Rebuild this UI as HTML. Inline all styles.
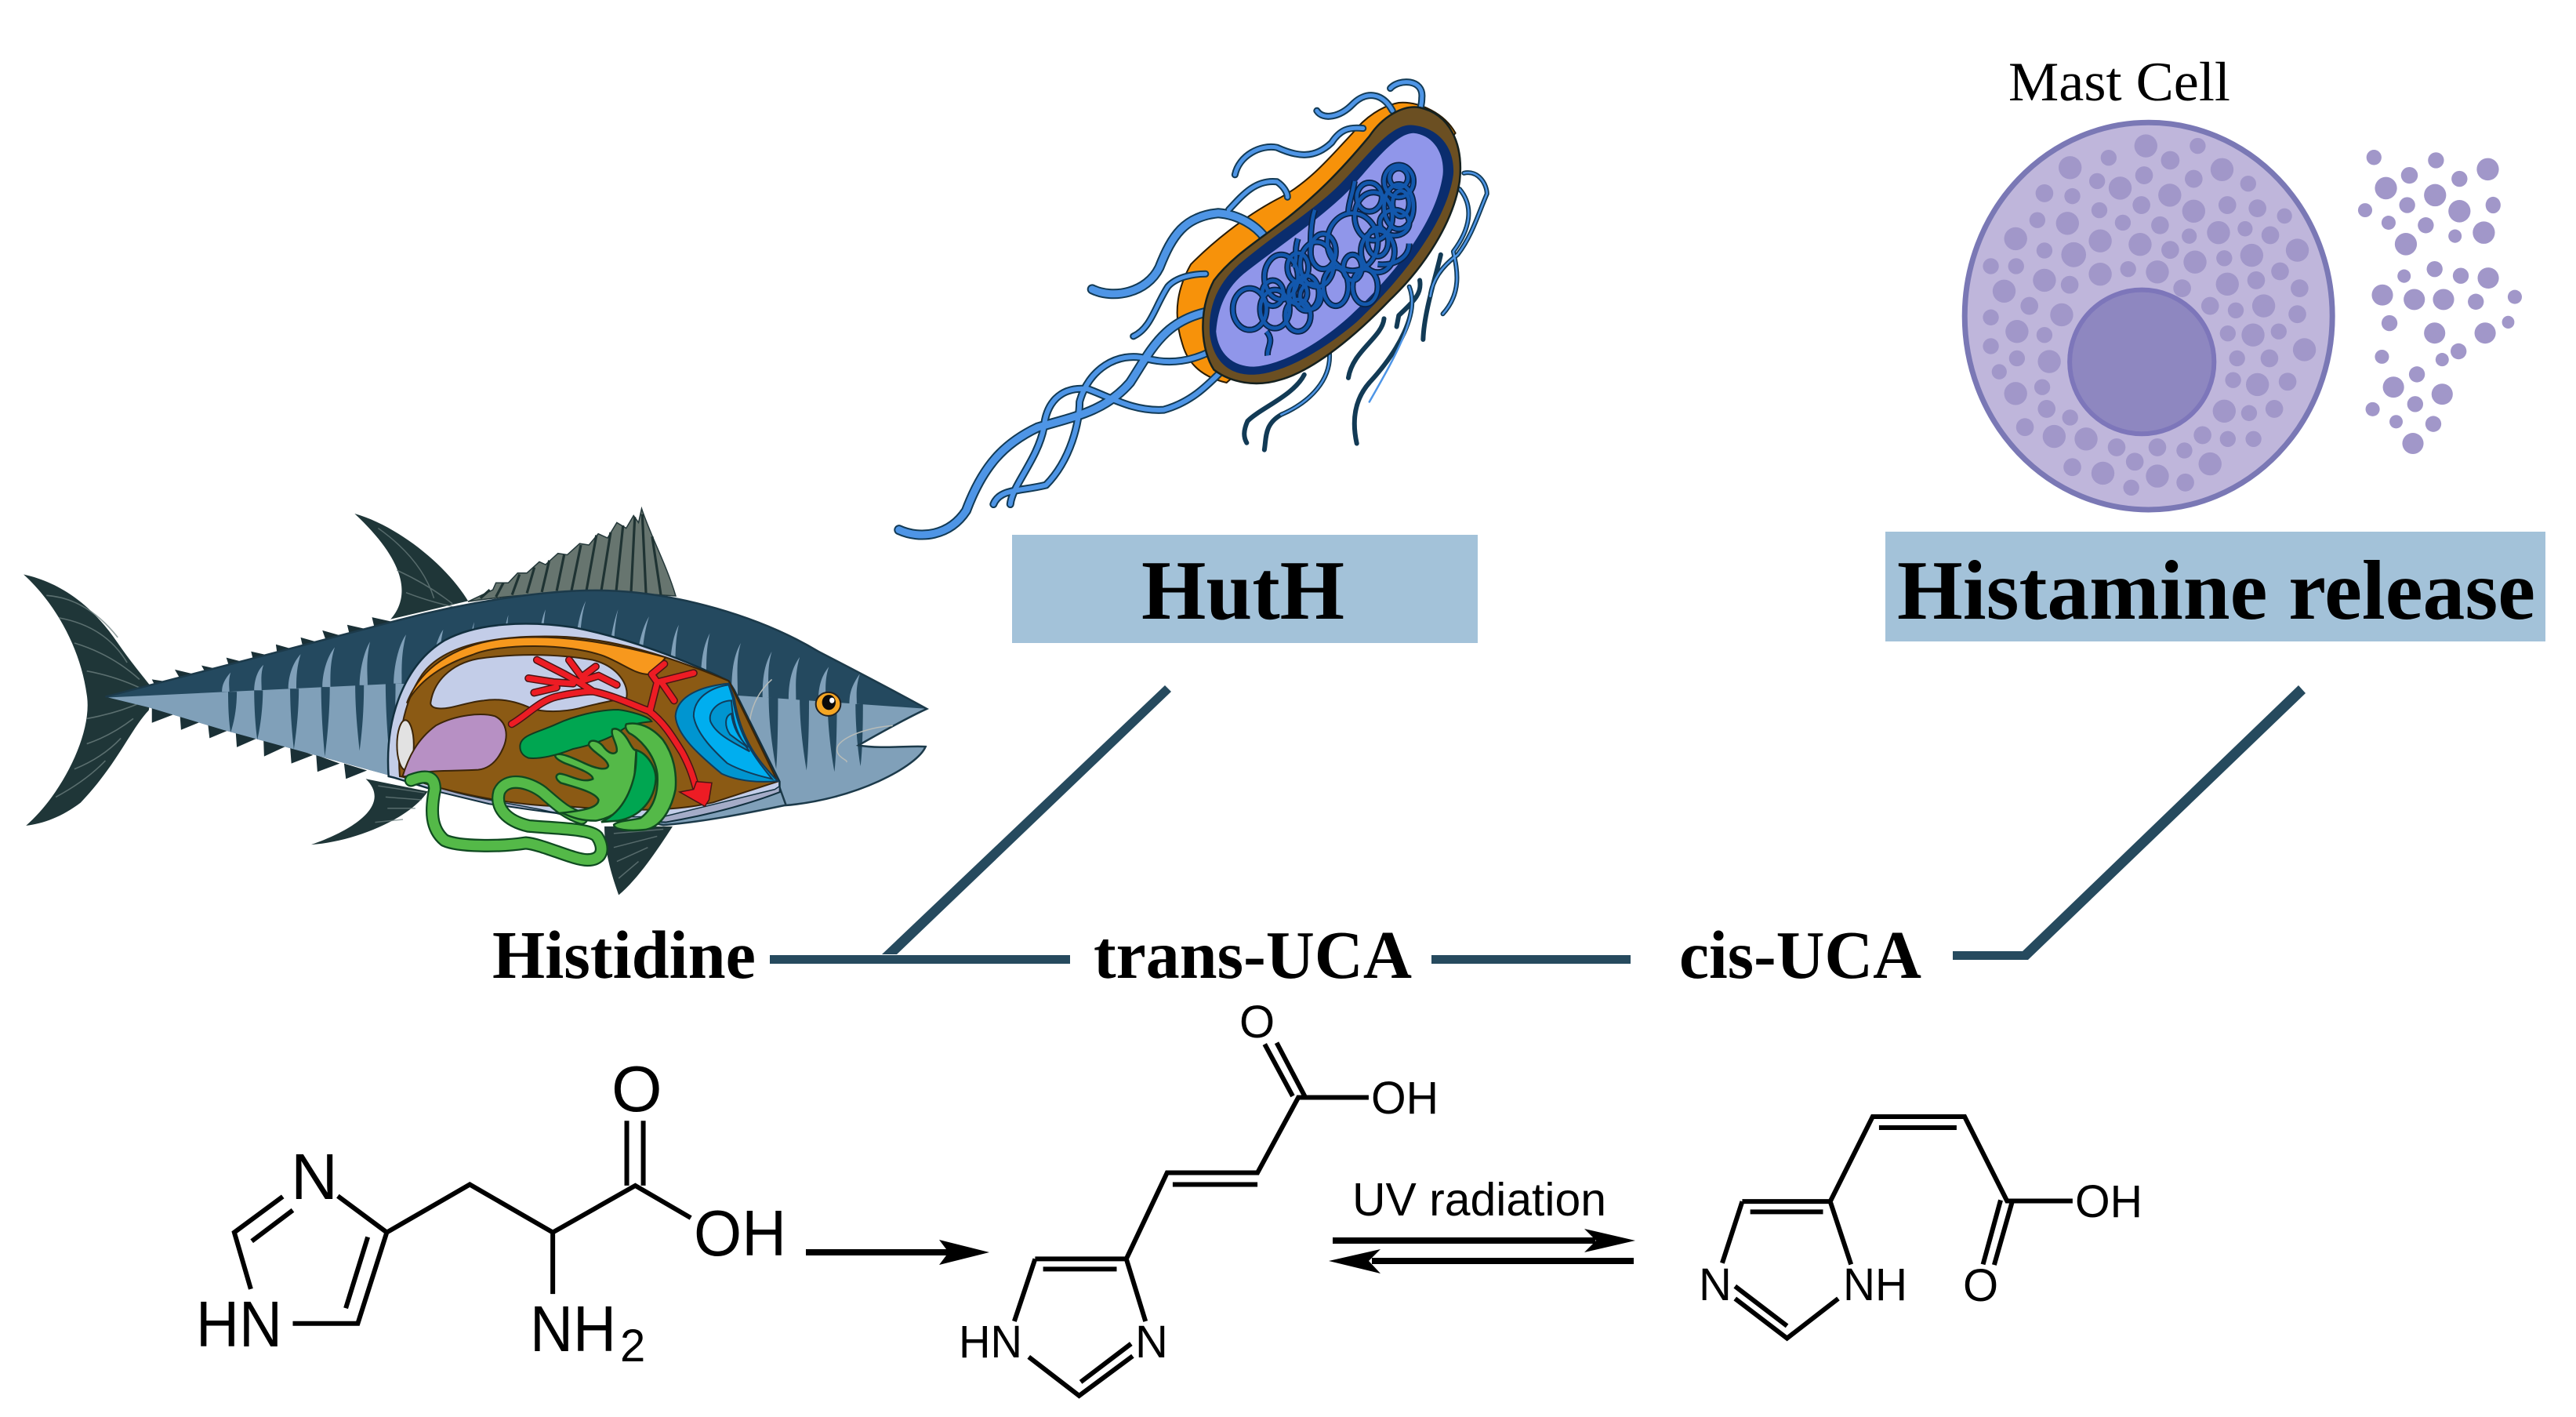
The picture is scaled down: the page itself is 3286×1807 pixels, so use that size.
<!DOCTYPE html>
<html lang="en"><head><meta charset="utf-8"><title>Histidine to UCA diagram</title>
<style>
html,body{margin:0;padding:0;background:#fff}
svg{display:block}
svg *{vector-effect:non-scaling-stroke}
.b{font-family:"Liberation Serif",serif;font-weight:bold;fill:#000}
.s{font-family:"Liberation Sans",sans-serif;fill:#000}
.chem{fill:none;stroke:#000;stroke-width:6;stroke-linecap:butt;stroke-linejoin:miter}
</style></head><body>
<svg xmlns="http://www.w3.org/2000/svg" width="3286" height="1807" viewBox="0 0 3286 1807">
<defs>
<clipPath id="bd"><path d="M170,752C300,680 500,560 640,480C760,410 880,372 960,372C1090,372 1230,470 1320,590C1390,670 1450,740 1495,795C1470,820 1420,880 1385,925C1420,940 1470,925 1493,930C1480,1000 1380,1120 1265,1140C1200,1170 1130,1200 1070,1210L640,1040L360,870L240,790Z"/></clipPath>
<g id="dna">
<ellipse cx="885" cy="770" rx="40" ry="65"/><ellipse cx="945" cy="770" rx="35" ry="60"/><ellipse cx="1000" cy="790" rx="30" ry="50"/><ellipse cx="960" cy="670" rx="40" ry="70"/><ellipse cx="1020" cy="720" rx="30" ry="55"/><ellipse cx="1045" cy="630" rx="40" ry="70"/><ellipse cx="1090" cy="700" rx="30" ry="60"/><ellipse cx="1130" cy="560" rx="60" ry="90"/><ellipse cx="1190" cy="590" rx="40" ry="65"/><ellipse cx="1180" cy="480" rx="45" ry="75"/><ellipse cx="1240" cy="450" rx="35" ry="70"/><ellipse cx="1240" cy="370" rx="35" ry="50"/><ellipse cx="1160" cy="700" rx="30" ry="55"/>
<ellipse cx="1030" cy="730" rx="25" ry="40"/><ellipse cx="1000" cy="640" rx="25" ry="45"/><ellipse cx="1060" cy="590" rx="30" ry="55"/><ellipse cx="1130" cy="640" rx="22" ry="40"/><ellipse cx="1190" cy="560" rx="25" ry="45"/><ellipse cx="1240" cy="360" rx="22" ry="30"/><ellipse cx="1245" cy="440" rx="20" ry="40"/><ellipse cx="1230" cy="500" rx="35" ry="40"/><ellipse cx="1170" cy="420" rx="30" ry="45"/><ellipse cx="940" cy="720" rx="25" ry="40"/><ellipse cx="1000" cy="720" rx="22" ry="35"/>
<path d="M925,840C945,870 925,890 928,915M1040,460C1030,500 1030,550 1030,600M1135,370C1130,410 1120,440 1120,470M1265,565C1265,610 1230,635 1190,630M1000,550C990,590 1000,610 990,640"/>
</g>
</defs>
<rect width="3286" height="1807" fill="#fff"/>

<!-- FISH -->
<g transform="translate(0,620) scale(.7908,.35714)">
<path d="M38,315C100,345 150,430 190,560C215,640 235,690 245,720L240,800C210,870 190,990 130,1130C100,1180 70,1205 42,1212C100,1100 150,880 140,745C130,580 90,420 38,315Z" fill="#1f3638"/>
<g fill="none" stroke="#6f8282" stroke-width="1.6" opacity=".75">
<path d="M75,390Q140,400 190,540M95,470Q170,500 205,630M120,560Q180,600 225,690M140,660Q190,680 235,730M140,830Q190,810 230,770M140,920Q180,890 215,830M120,1010Q165,970 195,900M90,1110Q140,1050 170,980"/>
</g>
<path d="M572,98C640,140 720,280 755,410L630,475C660,400 660,280 572,98Z" fill="#1f3638"/>
<path d="M610,150Q680,260 700,400M640,300Q690,350 730,420M655,380Q690,410 730,430" fill="none" stroke="#6f8282" stroke-width="1.5" opacity=".7"/>
<path d="M755,412L795,370L800,345L820,345L835,310L850,310L870,270L880,280L900,240L915,245L935,205L950,210L965,170L980,185L995,130L1010,150L1022,105L1030,130L1035,80C1050,180 1075,280 1090,392C960,370 850,380 755,412Z" fill="#67756f" stroke="#24383a" stroke-width="1.5"/>
<path d="M775,400L790,370M800,395L812,345M826,388L838,315M850,382L862,290M874,378L886,265M898,374L910,245M922,372L937,210M946,372L962,175M970,372L985,165M994,374L1005,140M1018,378L1024,110M1042,382L1036,100M1066,388L1052,180" fill="none" stroke="#1f3333" stroke-width="3.2"/>
<!-- finlets -->
<g fill="#1a3036">
<path d="M245,690L290,705L255,735ZM282,655L330,680L295,705ZM325,640L365,660L335,680ZM365,612L405,635L372,660ZM405,590L445,610L410,635ZM445,565L485,590L448,612ZM485,540L525,565L490,590ZM520,515L560,540L528,565ZM560,495L600,515L565,540ZM600,468L635,485L605,515Z"/>
<path d="M245,785L280,815L245,845ZM290,810L325,840L292,870ZM335,840L370,870L338,900ZM380,870L415,900L382,932ZM425,900L460,930L426,965ZM468,930L505,960L470,990ZM510,960L548,990L512,1020ZM555,990L592,1015L558,1045Z"/>
</g>
<path d="M590,1045L690,1090C660,1190 570,1270 502,1280C580,1220 630,1130 590,1045Z" fill="#1f3638"/>
<path d="M610,1070L685,1095M622,1110L680,1120M625,1150L670,1150M605,1200L650,1190" stroke="#6f8282" stroke-width="1.5" opacity=".7" fill="none"/>
<path d="M975,1215L1085,1215C1060,1300 1030,1400 998,1460C985,1380 975,1300 975,1215Z" fill="#1f3638"/>
<path d="M990,1240L1070,1225M990,1290L1060,1250M995,1340L1045,1290M998,1400L1030,1340" stroke="#6f8282" stroke-width="1.5" opacity=".7" fill="none"/>
<!-- body -->
<path d="M170,752C300,680 500,560 640,480C760,410 880,372 960,372C1090,372 1230,470 1320,590C1390,670 1450,740 1495,795C1470,820 1420,880 1385,925C1420,940 1470,925 1493,930C1480,1000 1380,1120 1265,1140C1200,1170 1130,1200 1070,1210L640,1040L360,870L240,790Z" fill="#24495f"/>
<g clip-path="url(#bd)">
<path d="M170,755L640,705L1175,745L1495,795L1500,1250L600,1250L170,800Z" fill="#80a0b9"/>
<g fill="#80a0b9">
<path d="M358,734C358,710 362,690 372,665C368,695 370,715 370,734Z"/>
<path d="M410,729C410,700 414,660 425,638C420,670 422,700 422,729Z"/>
<path d="M465,723C465,680 472,630 485,600C478,650 478,690 478,723Z"/>
<path d="M520,717C520,670 527,610 540,575C532,630 533,680 533,717Z"/>
<path d="M580,711C580,660 587,590 597,555C590,620 593,670 593,711Z"/>
<path d="M635,705C635,650 642,570 655,530C647,600 648,650 648,705Z"/>
<path d="M695,720C695,640 702,550 715,512C707,590 708,650 708,720Z"/>
<path d="M755,720C755,620 757,530 765,485C760,570 767,640 767,720Z"/>
<path d="M808,720C808,610 812,510 820,460C815,550 820,620 820,720Z"/>
<path d="M865,720C865,600 870,490 880,440C873,540 876,620 876,720Z"/>
<path d="M925,720C925,590 930,470 945,410C932,500 936,610 936,720Z"/>
<path d="M980,720C980,600 987,500 997,440C988,530 990,620 990,720Z"/>
<path d="M1025,720C1025,610 1032,520 1047,465C1035,550 1035,630 1035,720Z"/>
<path d="M1080,740C1080,630 1082,550 1095,495C1087,570 1090,650 1090,740Z"/>
<path d="M1130,745C1130,640 1132,580 1145,525C1137,600 1140,670 1140,745Z"/>
<path d="M1180,745C1180,670 1182,610 1195,560C1187,620 1190,680 1190,745Z"/>
<path d="M1230,755C1230,690 1232,640 1245,590C1237,650 1240,700 1240,755Z"/>
<path d="M1272,763C1272,700 1277,650 1290,610C1282,670 1284,715 1284,763Z"/>
<path d="M1320,770C1320,720 1324,680 1337,645C1330,690 1332,730 1332,770Z"/>
<path d="M1370,778C1370,740 1374,710 1387,670C1380,720 1382,750 1382,778Z"/>
</g>
<g fill="#24495f">
<path d="M368,734L382,734C382,790 378,840 372,880C369,840 368,790 368,734Z"/>
<path d="M410,729L424,729C424,790 420,860 415,905C412,860 410,790 410,729Z"/>
<path d="M468,723L482,723C482,800 478,880 474,940C471,880 468,800 468,723Z"/>
<path d="M518,717L532,717C532,800 528,900 524,965C521,900 518,800 518,717Z"/>
<path d="M573,711L587,711C587,800 584,880 580,945C577,880 573,800 573,711Z"/>
<path d="M622,705L638,705C638,800 636,930 630,1000C626,930 622,800 622,705Z"/>
<path d="M1240,755L1255,755C1255,850 1254,960 1252,1010C1247,950 1240,850 1240,755Z"/>
<path d="M1290,763L1305,763C1305,850 1304,950 1301,1015C1296,950 1290,850 1290,763Z"/>
<path d="M1335,770L1350,770C1350,860 1349,960 1346,1020C1341,960 1335,860 1335,770Z"/>
<path d="M1380,778L1392,778C1392,860 1391,950 1388,1000C1384,950 1380,860 1380,778Z"/>
</g>
</g>
<path d="M170,752C300,680 500,560 640,480C760,410 880,372 960,372C1090,372 1230,470 1320,590C1390,670 1450,740 1495,795C1470,820 1420,880 1385,925C1420,940 1470,925 1493,930C1480,1000 1380,1120 1265,1140C1200,1170 1130,1200 1070,1210L640,1040" fill="none" stroke="#1c3a4a" stroke-width="2.5"/>
<path d="M1255,1060L1268,1140" stroke="#1c3a4a" stroke-width="2.5" fill="none"/>
<path d="M1440,855C1400,860 1350,900 1350,940C1350,970 1370,980 1365,985M1245,690C1215,750 1205,830 1210,900" fill="none" stroke="#b8bcb8" stroke-width="1.5"/>
<ellipse cx="1336" cy="778" rx="20" ry="42" fill="#f5a623" stroke="#222" stroke-width="2"/>
<ellipse cx="1337" cy="772" rx="11" ry="27" fill="#0a0a0a"/>
<ellipse cx="1342" cy="765" rx="4" ry="10" fill="#fff"/>
</g>
<!-- organs (detail coordinates) -->
<g transform="translate(460,780) scale(.357,.3333)">
<path d="M100,630C85,400 160,200 300,110C420,40 600,35 760,60C950,100 1150,180 1315,265L1335,300L1497,650L1497,690C1350,750 1200,785 1090,805C850,800 640,760 460,735L285,690L120,635Z" fill="#c3cde8" stroke="#12303f" stroke-width="2.5"/>
<path d="M285,675C450,730 640,745 740,785L1080,785L1480,680L1497,668L1497,690C1350,750 1200,785 1090,805C850,800 640,760 460,735L285,690Z" fill="#a5acc8" stroke="#12303f" stroke-width="1.5"/>
<path d="M140,630C130,500 150,350 220,240C300,120 500,90 700,95C900,100 1100,170 1315,265L1490,650L1260,730C1100,770 900,760 740,745C600,745 450,720 285,675L150,632Z" fill="#8b5a14" stroke="#3c2508" stroke-width="2"/>
<path d="M165,350C210,220 330,130 500,105C700,80 900,120 1090,175C1075,195 1050,225 1030,240C980,240 940,200 870,170C740,120 500,120 400,165C300,200 210,260 165,350Z" fill="#f7981d" stroke="#3c2508" stroke-width="2"/>
<path d="M250,350C260,270 320,200 420,180C550,160 700,160 830,185C920,210 960,280 950,330C900,340 850,350 780,370C720,385 650,385 610,370C560,345 500,330 440,340C380,345 320,375 280,370C260,370 250,360 250,350Z" fill="#c3cde8" stroke="#3c2508" stroke-width="2"/>
<ellipse cx="160" cy="510" rx="30" ry="95" fill="#e2e2e2" stroke="#3c2508" stroke-width="2"/>
<path d="M150,630C170,560 200,490 270,435C340,395 430,385 480,400C520,420 530,470 510,520C490,570 460,600 420,605C340,610 260,605 200,620C175,628 160,632 150,630Z" fill="#b790c4" stroke="#3c2508" stroke-width="2"/>
<!-- gill -->
<path d="M1315,275C1220,285 1130,320 1125,400C1130,470 1200,540 1290,620C1350,650 1430,655 1490,648C1430,580 1360,500 1335,330Z" fill="#0095d0" stroke="#123c5a" stroke-width="2"/>
<path d="M1315,280C1250,290 1190,330 1190,400C1200,470 1270,540 1310,580C1360,610 1430,630 1470,640C1410,560 1350,480 1330,330Z" fill="#00aeef" stroke="#123c5a" stroke-width="2"/>
<path d="M1325,340C1280,340 1240,380 1250,420C1270,470 1330,500 1390,535C1350,480 1330,430 1325,340Z" fill="#0095d0" stroke="#123c5a" stroke-width="2"/>
<path d="M1325,390C1300,400 1300,440 1320,470C1345,490 1370,510 1385,520C1350,480 1330,440 1325,390Z" fill="#00aeef" stroke="#123c5a" stroke-width="2"/>
<!-- stomach -->
<path d="M570,510C575,470 640,460 700,430C760,400 850,375 920,375C960,380 1030,400 1040,420C1000,425 960,430 930,455C900,480 830,510 760,525C700,550 640,565 600,560C575,550 568,530 570,510Z" fill="#00a651" stroke="#123c20" stroke-width="2"/>
<!-- artery -->
<g fill="none" stroke="#4a1414" stroke-width="10" stroke-linecap="round" stroke-linejoin="round">
<path d="M540,430C590,400 640,340 700,325C760,310 810,305 830,305C900,320 980,360 1030,380C1080,420 1110,470 1150,540C1180,600 1190,640 1200,680M630,185L730,240L780,270L830,305M745,185L790,250M840,210L790,250M600,255L690,270L760,275M620,310L700,290M850,245L915,280M790,265L850,245M1035,375L1060,270L1040,240L1085,200M1060,270L1190,235M1075,270L1120,340"/>
</g>
<g fill="none" stroke="#ed1c24" stroke-width="7" stroke-linecap="round" stroke-linejoin="round">
<path d="M540,430C590,400 640,340 700,325C760,310 810,305 830,305C900,320 980,360 1030,380C1080,420 1110,470 1150,540C1180,600 1190,640 1200,680M630,185L730,240L780,270L830,305M745,185L790,250M840,210L790,250M600,255L690,270L760,275M620,310L700,290M850,245L915,280M790,265L850,245M1035,375L1060,270L1040,240L1085,200M1060,270L1190,235M1075,270L1120,340"/>
</g>
<path d="M1140,690L1190,680L1200,650L1255,655L1245,720L1230,745Z" fill="#ed1c24" stroke="#4a1414" stroke-width="1.5"/>
<!-- intestine -->
<g fill="none" stroke-linecap="round" stroke-linejoin="round">
<path d="M180,645C230,625 265,625 265,680C250,760 250,830 300,875C350,900 500,900 590,885C650,890 760,950 810,950C870,950 870,900 845,860C820,830 700,830 600,820C520,800 480,750 495,690C520,630 600,650 650,690C700,735 730,770 790,790" stroke="#0f4a20" stroke-width="17"/>
<path d="M180,645C230,625 265,625 265,680C250,760 250,830 300,875C350,900 500,900 590,885C650,890 760,950 810,950C870,950 870,900 845,860C820,830 700,830 600,820C520,800 480,750 495,690C520,630 600,650 650,690C700,735 730,770 790,790" stroke="#54b948" stroke-width="12.5"/>
</g>
<path d="M695,550C710,535 760,560 800,580C840,600 880,610 885,590C880,560 830,540 815,510C815,485 850,490 870,520C885,540 905,550 915,535C920,510 890,470 900,450C920,440 945,470 960,500C975,530 980,530 985,530L975,690C960,740 900,790 840,800C790,800 760,790 720,770C800,760 850,750 850,720C840,690 760,670 715,655C695,640 695,625 710,620C740,620 790,660 830,640C830,620 780,600 730,580C710,570 695,560 695,550Z" fill="#54b948" stroke="#0f4a20" stroke-width="2.5"/>
<path d="M985,530C1020,540 1055,590 1055,640C1050,720 1000,785 920,800L860,805C930,770 960,700 975,640C985,600 985,560 985,530Z" fill="#00a651" stroke="#0f4a20" stroke-width="2.5"/>
<path d="M950,430C990,420 1040,440 1080,490C1120,550 1130,620 1125,680C1110,760 1070,830 1010,835C960,840 905,835 905,815C920,800 960,800 1000,790C1050,750 1065,690 1060,620C1050,540 990,480 960,465C945,450 945,435 950,430Z" fill="#54b948" stroke="#0f4a20" stroke-width="2.5"/>
</g>

<!-- BACTERIUM -->
<g transform="translate(1120,80) scale(.5357,.408)">
<path d="M1240,125C1200,135 1160,170 1130,220C1080,290 1030,370 960,420C870,480 790,570 745,630C715,700 700,780 725,880C740,950 780,985 830,1000L1000,800L1375,220C1350,160 1290,120 1240,125Z" fill="#f7920a" stroke="#2a1c05" stroke-width="2"/>
<g fill="none" stroke="#123a55" stroke-linecap="round" stroke-linejoin="round">
<path stroke-width="9" d="M835,460C870,410 900,365 950,372C965,385 975,405 975,420M850,350C860,290 910,255 950,265C1000,295 1040,300 1080,250C1100,210 1120,200 1155,205M1045,150C1060,180 1100,170 1130,130C1160,90 1200,90 1225,150M1220,80C1240,50 1300,50 1295,110C1295,140 1285,170 1280,185M608,855C650,830 660,760 690,700C710,670 750,660 780,660"/>
<path stroke-width="13" d="M50,1460C100,1490 170,1480 210,1400C250,1260 300,1190 380,1140C470,1105 540,1090 600,1000C650,900 680,800 800,775M510,708C560,740 640,720 670,640C700,540 730,480 810,470C860,475 900,510 920,545"/>
<path stroke-width="10" d="M275,1380C290,1330 340,1340 400,1320C460,1240 480,1120 480,1060C500,960 570,900 640,925C700,945 750,930 795,900M315,1380C320,1320 380,1240 395,1140C400,1070 430,1010 500,1020C560,1050 610,1090 680,1085C750,1060 790,1000 825,955"/>
<path stroke-width="6" d="M1395,345C1430,335 1450,380 1450,410C1430,470 1415,540 1380,600C1340,640 1320,680 1315,730M1385,395C1420,450 1410,520 1370,590C1380,650 1390,720 1345,785M1340,600C1330,660 1300,780 1298,865M1265,700C1290,780 1240,900 1170,1000C1130,1060 1130,1130 1140,1190M1205,800C1200,860 1130,900 1120,985M1075,905C1080,990 1030,1060 960,1100C920,1130 925,1170 920,1210M1015,975C990,1040 910,1080 880,1120C870,1150 870,1170 878,1188M1290,680C1295,720 1280,740 1240,790L1235,825"/>
</g>
<g fill="none" stroke="#4e95e6" stroke-linecap="round" stroke-linejoin="round">
<path stroke-width="5" d="M835,460C870,410 900,365 950,372C965,385 975,405 975,420M850,350C860,290 910,255 950,265C1000,295 1040,300 1080,250C1100,210 1120,200 1155,205M1045,150C1060,180 1100,170 1130,130C1160,90 1200,90 1225,150M1220,80C1240,50 1300,50 1295,110C1295,140 1285,170 1280,185M608,855C650,830 660,760 690,700C710,670 750,660 780,660"/>
<path stroke-width="9" d="M50,1460C100,1490 170,1480 210,1400C250,1260 300,1190 380,1140C470,1105 540,1090 600,1000C650,900 680,800 800,775M510,708C560,740 640,720 670,640C700,540 730,480 810,470C860,475 900,510 920,545"/>
<path stroke-width="6" d="M275,1380C290,1330 340,1340 400,1320C460,1240 480,1120 480,1060C500,960 570,900 640,925C700,945 750,930 795,900M315,1380C320,1320 380,1240 395,1140C400,1070 430,1010 500,1020C560,1050 610,1090 680,1085C750,1060 790,1000 825,955"/>
<path stroke-width="2.5" d="M1395,345C1430,335 1450,380 1450,410C1430,470 1415,540 1380,600C1340,640 1320,680 1315,730M1385,395C1420,450 1410,520 1370,590C1380,650 1390,720 1345,785M1265,700C1290,780 1240,900 1170,1060M1075,905C1080,990 1030,1060 960,1100"/>
</g>
<path d="M1290,140C1360,160 1395,250 1385,370C1370,500 1300,640 1220,740C1140,850 1040,960 960,990C900,1015 840,1000 800,960C770,900 760,780 800,680C840,610 900,560 960,500C1040,420 1100,340 1170,230C1200,170 1250,130 1290,140Z" fill="#6b4f22" stroke="#15211f" stroke-width="2.5"/>
<path d="M1270,195C1330,200 1375,260 1370,350C1355,490 1260,660 1140,810C1060,900 960,975 890,975C840,975 800,940 790,850C785,760 810,690 860,630C940,540 1040,460 1100,380C1160,300 1220,190 1270,195Z" fill="#0a2d6e"/>
<path d="M1275,220C1320,225 1350,280 1345,350C1330,490 1240,650 1125,790C1050,880 960,945 895,950C845,950 810,910 805,840C810,760 830,700 880,650C960,570 1060,480 1120,400C1170,330 1230,220 1275,220Z" fill="#9096ea"/>
<use href="#dna" fill="none" stroke="#0a2347" stroke-width="8"/>
<use href="#dna" fill="none" stroke="#1358ad" stroke-width="4.5"/>
</g>

<!-- MAST CELL -->
<g transform="translate(2400,40) scale(.565,.408)">
<ellipse cx="603" cy="890" rx="415" ry="605" fill="#bfb6db" stroke="#7a78b5" stroke-width="7"/>
<g fill="#a197c9">
<ellipse cx="597" cy="358" rx="26" ry="36"/><ellipse cx="714" cy="358" rx="18" ry="25"/><ellipse cx="513" cy="395" rx="18" ry="25"/><ellipse cx="652" cy="403" rx="21" ry="29"/><ellipse cx="426" cy="426" rx="26" ry="36"/><ellipse cx="769" cy="432" rx="26" ry="36"/><ellipse cx="593" cy="450" rx="20" ry="28"/><ellipse cx="705" cy="461" rx="20" ry="28"/><ellipse cx="487" cy="468" rx="18" ry="25"/><ellipse cx="828" cy="476" rx="18" ry="25"/><ellipse cx="539" cy="490" rx="26" ry="36"/><ellipse cx="651" cy="512" rx="26" ry="36"/><ellipse cx="368" cy="506" rx="20" ry="28"/><ellipse cx="431" cy="515" rx="18" ry="25"/><ellipse cx="587" cy="543" rx="20" ry="28"/><ellipse cx="492" cy="559" rx="18" ry="25"/><ellipse cx="705" cy="562" rx="26" ry="36"/><ellipse cx="781" cy="543" rx="20" ry="28"/><ellipse cx="849" cy="553" rx="20" ry="28"/><ellipse cx="910" cy="577" rx="17" ry="24"/><ellipse cx="352" cy="590" rx="18" ry="25"/><ellipse cx="420" cy="600" rx="26" ry="36"/><ellipse cx="545" cy="598" rx="18" ry="25"/><ellipse cx="629" cy="606" rx="20" ry="28"/><ellipse cx="303" cy="648" rx="26" ry="36"/><ellipse cx="821" cy="617" rx="17" ry="24"/><ellipse cx="761" cy="629" rx="26" ry="36"/><ellipse cx="878" cy="637" rx="20" ry="28"/><ellipse cx="695" cy="640" rx="17" ry="24"/><ellipse cx="494" cy="655" rx="26" ry="36"/><ellipse cx="584" cy="666" rx="26" ry="36"/><ellipse cx="368" cy="685" rx="18" ry="25"/><ellipse cx="434" cy="698" rx="28" ry="39"/><ellipse cx="652" cy="683" rx="20" ry="28"/><ellipse cx="939" cy="684" rx="26" ry="36"/><ellipse cx="836" cy="700" rx="26" ry="36"/><ellipse cx="774" cy="709" rx="18" ry="25"/><ellipse cx="708" cy="721" rx="26" ry="36"/><ellipse cx="247" cy="734" rx="18" ry="25"/><ellipse cx="304" cy="734" rx="18" ry="25"/><ellipse cx="494" cy="759" rx="26" ry="36"/><ellipse cx="557" cy="743" rx="18" ry="25"/><ellipse cx="623" cy="752" rx="26" ry="36"/><ellipse cx="900" cy="750" rx="20" ry="28"/><ellipse cx="368" cy="778" rx="26" ry="36"/><ellipse cx="425" cy="792" rx="20" ry="28"/><ellipse cx="781" cy="790" rx="26" ry="36"/><ellipse cx="846" cy="778" rx="20" ry="28"/><ellipse cx="277" cy="812" rx="26" ry="36"/><ellipse cx="679" cy="803" rx="20" ry="28"/><ellipse cx="944" cy="803" rx="20" ry="28"/><ellipse cx="334" cy="858" rx="20" ry="28"/><ellipse cx="742" cy="858" rx="20" ry="28"/><ellipse cx="800" cy="872" rx="18" ry="25"/><ellipse cx="863" cy="858" rx="26" ry="36"/><ellipse cx="407" cy="886" rx="26" ry="36"/><ellipse cx="247" cy="894" rx="18" ry="25"/><ellipse cx="939" cy="884" rx="20" ry="28"/><ellipse cx="306" cy="938" rx="26" ry="36"/><ellipse cx="368" cy="949" rx="18" ry="25"/><ellipse cx="782" cy="944" rx="18" ry="25"/><ellipse cx="839" cy="949" rx="26" ry="36"/><ellipse cx="897" cy="938" rx="18" ry="25"/><ellipse cx="247" cy="984" rx="18" ry="25"/><ellipse cx="955" cy="995" rx="26" ry="36"/><ellipse cx="306" cy="1022" rx="18" ry="25"/><ellipse cx="379" cy="1032" rx="26" ry="36"/><ellipse cx="803" cy="1022" rx="18" ry="25"/><ellipse cx="876" cy="1022" rx="20" ry="28"/><ellipse cx="266" cy="1064" rx="17" ry="24"/><ellipse cx="794" cy="1090" rx="18" ry="25"/><ellipse cx="849" cy="1104" rx="26" ry="36"/><ellipse cx="917" cy="1095" rx="20" ry="28"/><ellipse cx="303" cy="1132" rx="26" ry="36"/><ellipse cx="363" cy="1112" rx="18" ry="25"/><ellipse cx="373" cy="1180" rx="20" ry="28"/><ellipse cx="774" cy="1187" rx="26" ry="36"/><ellipse cx="830" cy="1193" rx="18" ry="25"/><ellipse cx="887" cy="1180" rx="20" ry="28"/><ellipse cx="426" cy="1207" rx="18" ry="25"/><ellipse cx="324" cy="1237" rx="20" ry="28"/><ellipse cx="390" cy="1266" rx="26" ry="36"/><ellipse cx="462" cy="1274" rx="26" ry="36"/><ellipse cx="531" cy="1300" rx="20" ry="28"/><ellipse cx="725" cy="1262" rx="20" ry="28"/><ellipse cx="782" cy="1274" rx="18" ry="25"/><ellipse cx="840" cy="1274" rx="18" ry="25"/><ellipse cx="623" cy="1300" rx="20" ry="28"/><ellipse cx="684" cy="1310" rx="18" ry="25"/><ellipse cx="572" cy="1345" rx="20" ry="28"/><ellipse cx="431" cy="1362" rx="20" ry="28"/><ellipse cx="500" cy="1381" rx="26" ry="36"/><ellipse cx="742" cy="1352" rx="26" ry="36"/><ellipse cx="623" cy="1390" rx="26" ry="36"/><ellipse cx="686" cy="1410" rx="20" ry="28"/><ellipse cx="564" cy="1426" rx="18" ry="25"/>
</g>
<ellipse cx="588" cy="1033" rx="163" ry="225" fill="#8e87c0" stroke="#7d76ba" stroke-width="6"/>
<g fill="#a197c9">
<ellipse cx="1112" cy="394" rx="17" ry="24"/><ellipse cx="1252" cy="403" rx="18" ry="25"/><ellipse cx="1369" cy="431" rx="25" ry="35"/><ellipse cx="1192" cy="450" rx="19" ry="26"/><ellipse cx="1305" cy="461" rx="18" ry="25"/><ellipse cx="1139" cy="490" rx="25" ry="35"/><ellipse cx="1250" cy="512" rx="25" ry="35"/><ellipse cx="1187" cy="543" rx="18" ry="25"/><ellipse cx="1305" cy="562" rx="25" ry="35"/><ellipse cx="1381" cy="543" rx="17" ry="26"/><ellipse cx="1092" cy="559" rx="16" ry="22"/><ellipse cx="1145" cy="598" rx="16" ry="22"/><ellipse cx="1229" cy="606" rx="18" ry="25"/><ellipse cx="1295" cy="640" rx="15" ry="21"/><ellipse cx="1360" cy="629" rx="25" ry="35"/><ellipse cx="1184" cy="665" rx="25" ry="35"/><ellipse cx="1180" cy="765" rx="15" ry="21"/><ellipse cx="1249" cy="743" rx="18" ry="25"/><ellipse cx="1308" cy="764" rx="18" ry="25"/><ellipse cx="1370" cy="771" rx="24" ry="33"/><ellipse cx="1131" cy="824" rx="24" ry="33"/><ellipse cx="1203" cy="838" rx="24" ry="33"/><ellipse cx="1269" cy="838" rx="24" ry="33"/><ellipse cx="1342" cy="845" rx="18" ry="25"/><ellipse cx="1430" cy="830" rx="16" ry="22"/><ellipse cx="1147" cy="912" rx="18" ry="25"/><ellipse cx="1415" cy="909" rx="14" ry="20"/><ellipse cx="1249" cy="943" rx="24" ry="33"/><ellipse cx="1363" cy="943" rx="24" ry="33"/><ellipse cx="1303" cy="1000" rx="18" ry="25"/><ellipse cx="1130" cy="1017" rx="16" ry="22"/><ellipse cx="1266" cy="1026" rx="15" ry="21"/><ellipse cx="1209" cy="1072" rx="18" ry="25"/><ellipse cx="1156" cy="1112" rx="24" ry="33"/><ellipse cx="1266" cy="1134" rx="24" ry="33"/><ellipse cx="1205" cy="1165" rx="18" ry="25"/><ellipse cx="1109" cy="1181" rx="16" ry="22"/><ellipse cx="1162" cy="1220" rx="15" ry="21"/><ellipse cx="1246" cy="1227" rx="18" ry="25"/><ellipse cx="1200" cy="1288" rx="24" ry="33"/>
</g>
</g>
<text x="2562" y="128" font-family="Liberation Serif, serif" font-size="71" textLength="283" lengthAdjust="spacingAndGlyphs" fill="#000">Mast Cell</text>

<!-- Boxes -->
<rect x="1291" y="682" width="594" height="138" fill="#a3c2d9"/>
<rect x="2405" y="678" width="842" height="140" fill="#a3c2d9"/>
<text class="b" x="1456" y="789" font-size="108" textLength="259" lengthAdjust="spacingAndGlyphs">HutH</text>
<text class="b" x="2420" y="789" font-size="108" textLength="814" lengthAdjust="spacingAndGlyphs">Histamine release</text>

<!-- Pathway labels -->
<text class="b" x="628" y="1247" font-size="87" textLength="336" lengthAdjust="spacingAndGlyphs">Histidine</text>
<text class="b" x="1395" y="1247" font-size="87" textLength="406" lengthAdjust="spacingAndGlyphs">trans-UCA</text>
<text class="b" x="2142" y="1247" font-size="87" textLength="309" lengthAdjust="spacingAndGlyphs">cis-UCA</text>

<!-- connectors -->
<g fill="#264a5e">
<rect x="982" y="1218" width="383" height="11"/>
<rect x="1826" y="1218" width="254" height="11"/>
<polygon points="1125,1217 1144,1217 1494,882 1486,874"/>
<polygon points="2491,1213 2580,1213 2932,874 2941,884 2587,1224 2491,1224"/>
</g>

<!-- Histidine molecule -->
<g class="chem" transform="translate(200,1260) scale(.6378,.3489)">
<path d="M252,762L155,893L188,1100M272,812L190,925M272,1226L402,1226L460,893L362,760M378,1170L422,910M460,893L626,718L792,893L957,722L1068,840M792,893L792,1118M940,722L940,485M973,722L973,485"/>
</g>
<path d="M1028,1597H1210" stroke="#000" stroke-width="8"/>
<path d="M1262,1597L1198,1581L1210,1597L1198,1613Z" fill="#000"/>
<g class="s">
<text x="371" y="1529" font-size="83">N</text>
<text x="250" y="1717" font-size="83" textLength="110" lengthAdjust="spacingAndGlyphs">HN</text>
<text x="885" y="1601" font-size="83" textLength="118" lengthAdjust="spacingAndGlyphs">OH</text>
<text x="780" y="1417" font-size="83">O</text>
<text x="676" y="1723" font-size="83" textLength="110" lengthAdjust="spacingAndGlyphs">NH</text>
<text x="791" y="1736" font-size="58">2</text>
</g>

<!-- trans & cis molecules -->
<g class="chem" transform="translate(1200,1260) scale(1.0204,.3489)">
<path d="M118,990L232,990M128,1027L220,1027M118,990L92,1218M232,990L256,1218M110,1348L173,1490L240,1345M175,1440L238,1300M232,990L283,675L396,675L447,400L535,400M290,718L396,718M440,395L405,205M455,395L420,200"/>
<path d="M1002,780L1112,780M1012,818L1103,818M1002,780L977,1005M1112,780L1138,1010M1112,780L1165,470L1280,470L1333,778L1415,778M1173,510L1270,510M1325,775L1303,1010M1340,775L1317,1012M993,1135L1058,1280L1122,1135M993,1090L1058,1235"/>
</g>
<g stroke="#000" stroke-width="8">
<path d="M1700,1582H2035"/><path d="M2084,1608H1750"/>
</g>
<path d="M2086,1582L2021,1567L2036,1582L2021,1597Z" fill="#000"/>
<path d="M1695,1608L1761,1593L1746,1608L1761,1624Z" fill="#000"/>
<g class="s">
<text x="1725" y="1550" font-size="59" textLength="324" lengthAdjust="spacingAndGlyphs">UV radiation</text>
<text x="1581" y="1323" font-size="58">O</text>
<text x="1749" y="1420" font-size="58" textLength="86" lengthAdjust="spacingAndGlyphs">OH</text>
<text x="1223" y="1731" font-size="58" textLength="81" lengthAdjust="spacingAndGlyphs">HN</text>
<text x="1448" y="1731" font-size="58">N</text>
<text x="2167" y="1658" font-size="58">N</text>
<text x="2351" y="1658" font-size="58" textLength="82" lengthAdjust="spacingAndGlyphs">NH</text>
<text x="2504" y="1659" font-size="58">O</text>
<text x="2647" y="1552" font-size="58" textLength="86" lengthAdjust="spacingAndGlyphs">OH</text>
</g>
</svg>
</body></html>
